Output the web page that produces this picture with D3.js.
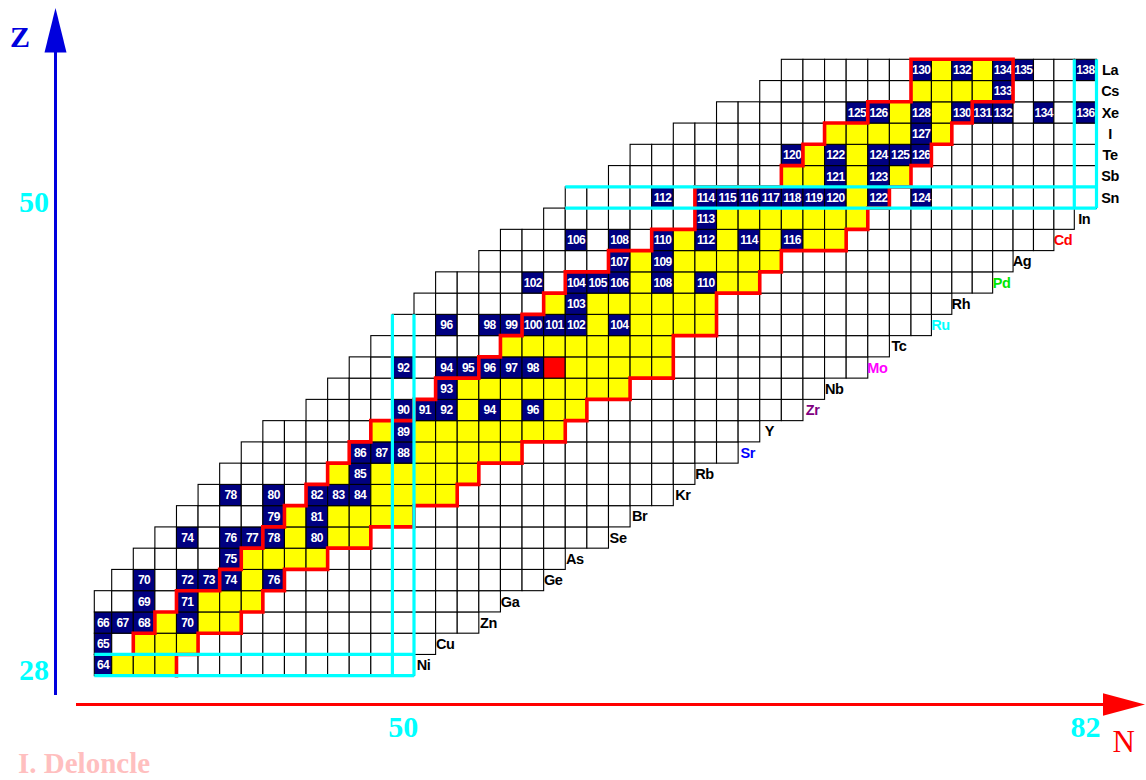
<!DOCTYPE html>
<html><head><meta charset="utf-8">
<script src="https://cdn.jsdelivr.net/npm/d3@7"></script>
<style>html,body{margin:0;padding:0;background:#fff;} svg{display:block;}</style>
</head><body>
<svg id="chart" width="1146" height="780"></svg>
<script>
// ---------- DATA ----------
const protonZ = [28,29,30,31,32,33,34,35,36,37,38,39,40,41,42,43,44,45,46,47,48,49,50,51,52,53,54,55,56];
const symbols = ["Ni","Cu","Zn","Ga","Ge","As","Se","Br","Kr","Rb","Sr","Y","Zr","Nb","Mo","Tc","Ru","Rh","Pd","Ag","Cd","In","Sn","Sb","Te","I","Xe","Cs","La"];
// first / last neutron number drawn in each row
const nFirst = [36,36,36,36,37,38,39,40,41,42,43,44,46,47,48,49,50,51,52,54,55,57,58,60,61,63,65,67,68];
const nLast  = [50,51,53,54,56,57,59,60,62,63,65,66,68,69,71,72,74,75,77,78,80,81,82,82,82,82,82,82,82];
// dark-blue cells (mass numbers A) per row
const stableA = [
  [64],[65],[66,67,68,70],[69,71],[70,72,73,74,76],[75],[74,76,77,78,80],[79,81],
  [78,80,82,83,84],[85],[86,87,88],[89],[90,91,92,94,96],[93],[92,94,95,96,97,98],[],
  [96,98,99,100,101,102,104],[103],[102,104,105,106,108,110],[107,109],
  [106,108,110,112,114,116],[113],[112,114,115,116,117,118,119,120,122,124],[121,123],
  [120,122,124,125,126],[127],[125,126,128,130,131,132,134,136],[133],[130,132,134,135,138]
];
// region enclosed by the red line: first N inside, first N outside (per row)
const regionFirstN = [37,38,39,40,42,43,44,45,46,47,48,49,51,52,54,55,56,57,58,60,62,64,64,68,69,70,72,74,74];
const regionEndN   = [40,41,43,44,45,47,49,51,53,54,56,58,59,61,63,63,65,65,67,68,71,72,73,74,75,76,77,79,79];
// red cell [Z, A]
const redCells = [[42, 99]];
// magic numbers (cyan)
const magicZ = [28, 50];
const magicN = [50, 82];

// ---------- STYLE ----------
const symbolColor = {Sr:"#0000ff", Zr:"#800080", Mo:"#ff00ff", Ru:"#00ffff", Pd:"#00e600", Cd:"#ff0000"};
const NAVY = "#000080", YELLOW = "#ffff00", RED = "#ff0000", CYAN = "#00ffff", BLUE = "#0000dd";

const svg = d3.select("#chart");
// cell-centred scales: column N spans x(N-0.5)..x(N+0.5)
const x = d3.scaleLinear().domain([35.5,36.5,50.5,73.5,81.5,82.5]).range([94.3,111.7,414,911,1074.3,1096.5]);
const y = d3.scaleLinear().domain([27.5,56.5]).range([675.7,59.3]);

// ---------- CELLS ----------
const cells = [];
protonZ.forEach((z, i) => {
  for (let n = nFirst[i]; n <= nLast[i]; n++) {
    const a = z + n;
    let type = "empty";
    if (n >= regionFirstN[i] && n < regionEndN[i]) type = "region";
    if (stableA[i].includes(a)) type = "stable";
    if (redCells.some(r => r[0] === z && r[1] === a)) type = "red";
    cells.push({z, n, a, type});
  }
});
const fillOf = {empty:"#ffffff", region:YELLOW, stable:NAVY, red:RED};

svg.append("g").selectAll("rect").data(cells).join("rect")
  .attr("x", d => x(d.n - 0.5)).attr("y", d => y(d.z + 0.5))
  .attr("width", d => x(d.n + 0.5) - x(d.n - 0.5))
  .attr("height", d => y(d.z - 0.5) - y(d.z + 0.5))
  .attr("fill", d => fillOf[d.type])
  .attr("stroke", "#000").attr("stroke-width", 1.1);

svg.append("g").selectAll("text").data(cells.filter(d => d.type === "stable")).join("text")
  .attr("x", d => x(d.n)).attr("y", d => y(d.z) + 4.3)
  .attr("text-anchor", "middle")
  .attr("font-family", "'Liberation Sans', Arial, sans-serif")
  .attr("font-weight", "bold").attr("font-size", 12).attr("letter-spacing", -0.6)
  .attr("fill", "#fff")
  .text(d => d.a);

// ---------- RED BOUNDARY ----------
const pts = [];
const idx = z => protonZ.indexOf(z);
const zTop = protonZ[protonZ.length - 1];
pts.push([x(regionFirstN[idx(29)] - 0.5), y(29 - 0.5)]);
for (let z = 29; z <= zTop; z++) {
  pts.push([x(regionFirstN[idx(z)] - 0.5), y(z + 0.5)]);
  if (z < zTop) pts.push([x(regionFirstN[idx(z + 1)] - 0.5), y(z + 0.5)]);
}
pts.push([x(regionEndN[idx(zTop)] - 0.5), y(zTop + 0.5)]);
for (let z = zTop; z >= 28; z--) {
  pts.push([x(regionEndN[idx(z)] - 0.5), y(z - 0.5)]);
  if (z > 28) pts.push([x(regionEndN[idx(z - 1)] - 0.5), y(z - 0.5)]);
}
svg.append("path").attr("d", d3.line()(pts))
  .attr("fill", "none").attr("stroke", RED).attr("stroke-width", 3.6)
  .attr("stroke-linejoin", "miter").attr("stroke-linecap", "square");

// ---------- MAGIC (cyan) ----------
const cyanG = svg.append("g").attr("stroke", CYAN).attr("stroke-width", 3.2).attr("fill", "none");
magicZ.forEach(z => {
  const i = idx(z);
  [z + 0.5, z - 0.5].forEach(e => cyanG.append("line")
    .attr("x1", x(nFirst[i] - 0.5)).attr("x2", x(nLast[i] + 0.5))
    .attr("y1", y(e)).attr("y2", y(e)));
});
magicN.forEach(n => {
  const rows = protonZ.filter((z, i) => nFirst[i] <= n && nLast[i] >= n);
  const z0 = d3.min(rows), z1 = d3.max(rows);
  [n - 0.5, n + 0.5].forEach(e => cyanG.append("line")
    .attr("x1", x(e)).attr("x2", x(e))
    .attr("y1", y(z0 - 0.5)).attr("y2", y(z1 + 0.5)));
});

// ---------- ELEMENT LABELS ----------
svg.append("g").selectAll("text").data(protonZ).join("text")
  .attr("x", (z, i) => x(nLast[i] + 1) + (z >= magicZ[1] ? 2.5 : -1.2))
  .attr("y", z => y(z) + 5.2)
  .attr("text-anchor", "middle")
  .attr("font-family", "'Liberation Sans', Arial, sans-serif")
  .attr("font-weight", "bold").attr("font-size", 14.5).attr("letter-spacing", -0.4)
  .attr("fill", (z, i) => symbolColor[symbols[i]] || "#000")
  .text((z, i) => symbols[i]);

// ---------- AXES ----------
const serif = "'Liberation Serif', 'Times New Roman', serif";
// Z axis
svg.append("line").attr("x1", 55.5).attr("x2", 55.5).attr("y1", 695).attr("y2", 50)
  .attr("stroke", BLUE).attr("stroke-width", 3);
svg.append("path").attr("d", d3.line()([[44.5,52.5],[55.5,8],[66.5,52.5]]) + "Z").attr("fill", BLUE);
svg.append("text").attr("x", 10).attr("y", 47).attr("font-family", serif).attr("font-weight", "bold")
  .attr("font-size", 30).attr("fill", BLUE).text("Z");
// N axis
svg.append("line").attr("x1", 76).attr("x2", 1105).attr("y1", 704.5).attr("y2", 704.5)
  .attr("stroke", RED).attr("stroke-width", 3.2);
svg.append("path").attr("d", d3.line()([[1103,693.3],[1145,704.5],[1103,715.7]]) + "Z").attr("fill", RED);
svg.append("text").attr("x", 1112.5).attr("y", 751.5).attr("font-family", serif)
  .attr("font-size", 31).attr("fill", RED).text("N");

// magic-number tick labels
svg.append("g").selectAll("text").data(magicZ).join("text")
  .attr("x", 49).attr("y", z => y(z) + 14.5)
  .attr("text-anchor", "end").attr("font-family", serif).attr("font-weight", "bold")
  .attr("font-size", 30).attr("fill", CYAN).text(z => z);
svg.append("g").selectAll("text").data(magicN).join("text")
  .attr("x", n => x(n)).attr("y", 737)
  .attr("text-anchor", "middle").attr("font-family", serif).attr("font-weight", "bold")
  .attr("font-size", 30).attr("fill", CYAN).text(n => n);

// credit
svg.append("text").attr("x", 18).attr("y", 773).attr("font-family", serif).attr("font-weight", "bold")
  .attr("font-size", 29).attr("fill", "#ffbfbf").text("I. Deloncle");
</script>
</body></html>
